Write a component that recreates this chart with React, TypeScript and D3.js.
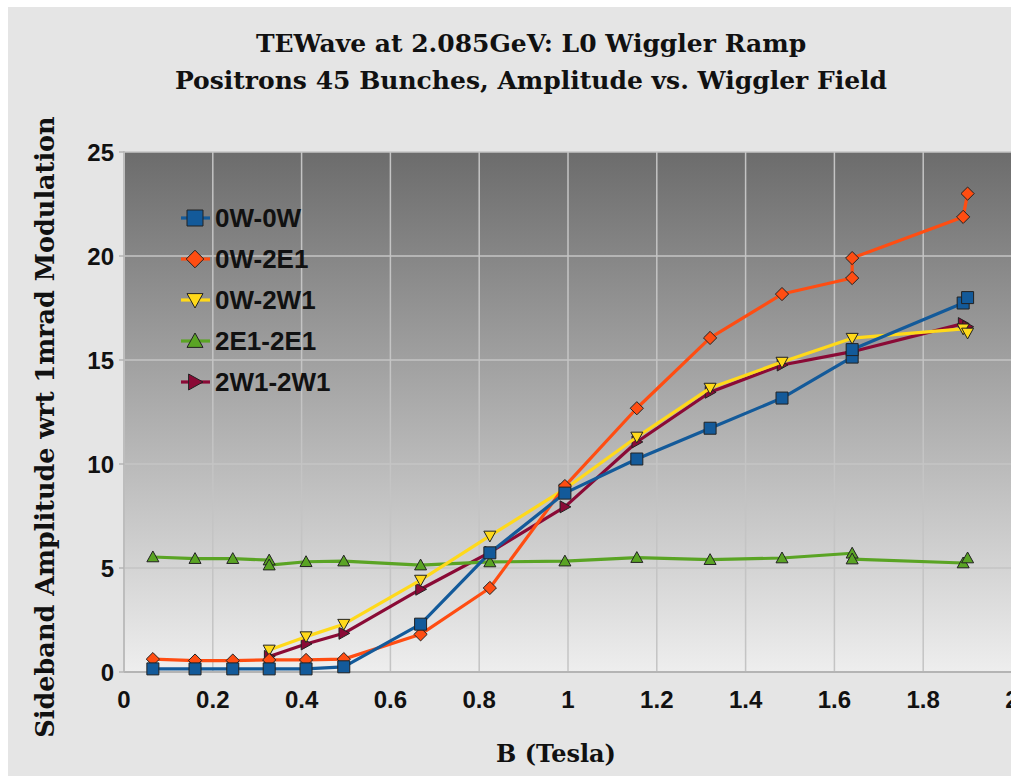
import React from "react";
import * as d3 from "d3";

const titleLines = ["TEWave at 2.085GeV: L0 Wiggler Ramp", "Positrons 45 Bunches, Amplitude vs. Wiggler Field"];
const xTitle = "B (Tesla)";
const yTitle = "Sideband Amplitude wrt 1mrad Modulation";
const xTicks = [0, 0.2, 0.4, 0.6, 0.8, 1, 1.2, 1.4, 1.6, 1.8, 2];
const yTicks = [0, 5, 10, 15, 20, 25];

const names = ["0W-0W", "0W-2E1", "0W-2W1", "2E1-2E1", "2W1-2W1"];
const colors = ["#135a9a", "#ff4d12", "#ffd91a", "#5aa424", "#8a0a36"];
const shapes = ["square", "diamond", "down", "up", "right"];

const x00 = [0.065, 0.16, 0.245, 0.327, 0.41, 0.495, 0.668, 0.824, 0.993, 1.155, 1.32, 1.482, 1.64, 1.64, 1.89, 1.9];
const y00 = [0.15, 0.15, 0.15, 0.15, 0.15, 0.25, 2.3, 5.73, 8.6, 10.24, 11.72, 13.17, 15.14, 15.5, 17.74, 18.0];
const x0E = [0.065, 0.16, 0.245, 0.327, 0.41, 0.495, 0.668, 0.824, 0.993, 1.155, 1.32, 1.482, 1.64, 1.64, 1.89, 1.9];
const y0E = [0.62, 0.55, 0.55, 0.58, 0.58, 0.62, 1.81, 4.04, 8.94, 12.68, 16.06, 18.17, 18.94, 19.9, 21.88, 23.0];
const x0W = [0.327, 0.41, 0.495, 0.668, 0.824, 0.993, 1.155, 1.32, 1.482, 1.64, 1.89, 1.9];
const y0W = [1.06, 1.7, 2.3, 4.42, 6.54, 8.8, 11.3, 13.65, 14.9, 16.05, 16.5, 16.3];
const xEE = [0.065, 0.16, 0.245, 0.327, 0.327, 0.41, 0.495, 0.668, 0.824, 0.993, 1.155, 1.32, 1.482, 1.64, 1.64, 1.89, 1.9];
const yEE = [5.53, 5.45, 5.45, 5.38, 5.14, 5.3, 5.33, 5.14, 5.29, 5.33, 5.5, 5.4, 5.48, 5.71, 5.43, 5.24, 5.48];
const xWW = [0.327, 0.41, 0.495, 0.668, 0.824, 0.993, 1.155, 1.32, 1.482, 1.64, 1.89, 1.9];
const yWW = [0.75, 1.35, 1.86, 3.98, 5.75, 7.94, 11.06, 13.45, 14.76, 15.4, 16.75, 16.6];

const seriesX = [x00, x0E, x0W, xEE, xWW];
const seriesY = [y00, y0E, y0W, yEE, yWW];

function markerPath(shape: string, s: number): string {
  const h = s / 2;
  switch (shape) {
    case "square":
      return `M${-h},${-h}H${h}V${h}H${-h}Z`;
    case "diamond":
      return `M0,${-h * 1.1}L${h * 1.1},0L0,${h * 1.1}L${-h * 1.1},0Z`;
    case "down":
      return `M${-h},${-h * 0.8}L${h},${-h * 0.8}L0,${h}Z`;
    case "up":
      return `M${-h},${h * 0.8}L${h},${h * 0.8}L0,${-h}Z`;
    default:
      return `M${-h * 0.8},${-h}L${h},0L${-h * 0.8},${h}Z`;
  }
}

export default function App() {
  const W = 1011, H = 776;
  const left = 124, right = 1012, top = 152, bottom = 672;
  const x = d3.scaleLinear().domain([0, 2]).range([left, right]);
  const y = d3.scaleLinear().domain([0, 25]).range([bottom, top]);
  const line = d3.line<[number, number]>().x(d => x(d[0])).y(d => y(d[1]));
  const order = [4, 3, 2, 1, 0];
  const sans = "'Liberation Sans', Arial, sans-serif";
  const serif = "'DejaVu Serif', serif";

  return (
    <svg width={W} height={H} style={{ position: "absolute", left: 0, top: 0 }}>
      <defs>
        <linearGradient id="bg" x1="0" y1="0" x2="0" y2="1">
          <stop offset="0" stopColor="#6c6c6c" />
          <stop offset="1" stopColor="#eeeeee" />
        </linearGradient>
      </defs>
      <rect x={0} y={0} width={W} height={H} fill="#ffffff" />
      <rect x={8} y={7} width={W - 8} height={H - 7} fill="#e5e5e5" />
      <rect x={left} y={top} width={right - left} height={bottom - top} fill="url(#bg)" />
      {xTicks.filter(t => t > 0).map(t => (
        <line key={"gx" + t} x1={x(t)} x2={x(t)} y1={top} y2={bottom} stroke="#c4c4c4" strokeWidth={1.5} />
      ))}
      {yTicks.filter(t => t > 0).map(t => (
        <line key={"gy" + t} x1={left} x2={right} y1={y(t)} y2={y(t)} stroke="#c4c4c4" strokeWidth={1.5} />
      ))}
      <line x1={left} x2={left} y1={top - 1} y2={bottom} stroke="#bdbdbd" strokeWidth={2} />
      <line x1={left} x2={right} y1={bottom} y2={bottom} stroke="#b4b4b4" strokeWidth={2} />
      {yTicks.map(t => (
        <g key={"yt" + t}>
          <line x1={left - 5} x2={left} y1={y(t)} y2={y(t)} stroke="#b4b4b4" strokeWidth={1.5} />
          <text x={114} y={y(t)} dy="0.36em" textAnchor="end" fontFamily={sans} fontWeight="bold" fontSize={24} fill="#111">{t}</text>
        </g>
      ))}
      {xTicks.map(t => (
        <text key={"xt" + t} x={x(t)} y={708} textAnchor="middle" fontFamily={sans} fontWeight="bold" fontSize={24} fill="#111">{t}</text>
      ))}
      {order.map(i => {
        const pts: [number, number][] = seriesX[i].map((v, k) => [v, seriesY[i][k]]);
        return (
          <g key={"s" + i}>
            <path d={line(pts) || ""} fill="none" stroke={colors[i]} strokeWidth={3.2} strokeLinejoin="round" />
            {pts.map((p, k) => (
              <path key={k} d={markerPath(shapes[i], 12)} transform={`translate(${x(p[0])},${y(p[1])})`} fill={colors[i]} stroke="#222" strokeWidth={1} />
            ))}
          </g>
        );
      })}
      {names.map((n, i) => {
        const ly = 218 + i * 41;
        return (
          <g key={"lg" + i}>
            <line x1={181} x2={210} y1={ly} y2={ly} stroke={colors[i]} strokeWidth={3.2} />
            <path d={markerPath(shapes[i], 16)} transform={`translate(195,${ly})`} fill={colors[i]} stroke="#222" strokeWidth={1} />
            <text x={215} y={ly} dy="0.36em" fontFamily={sans} fontWeight="bold" fontSize={26} fill="#111">{n}</text>
          </g>
        );
      })}
      {titleLines.map((t, i) => (
        <text key={"t" + i} x={531} y={52 + i * 37} textAnchor="middle" fontFamily={serif} fontWeight="bold" fontSize={25} fill="#111">{t}</text>
      ))}
      <text x={556} y={762} textAnchor="middle" fontFamily={serif} fontWeight="bold" fontSize={24} fill="#111">{xTitle}</text>
      <text transform="translate(54,427) rotate(-90)" textAnchor="middle" fontFamily={serif} fontWeight="bold" fontSize={25.5} fill="#111">{yTitle}</text>
    </svg>
  );
}
